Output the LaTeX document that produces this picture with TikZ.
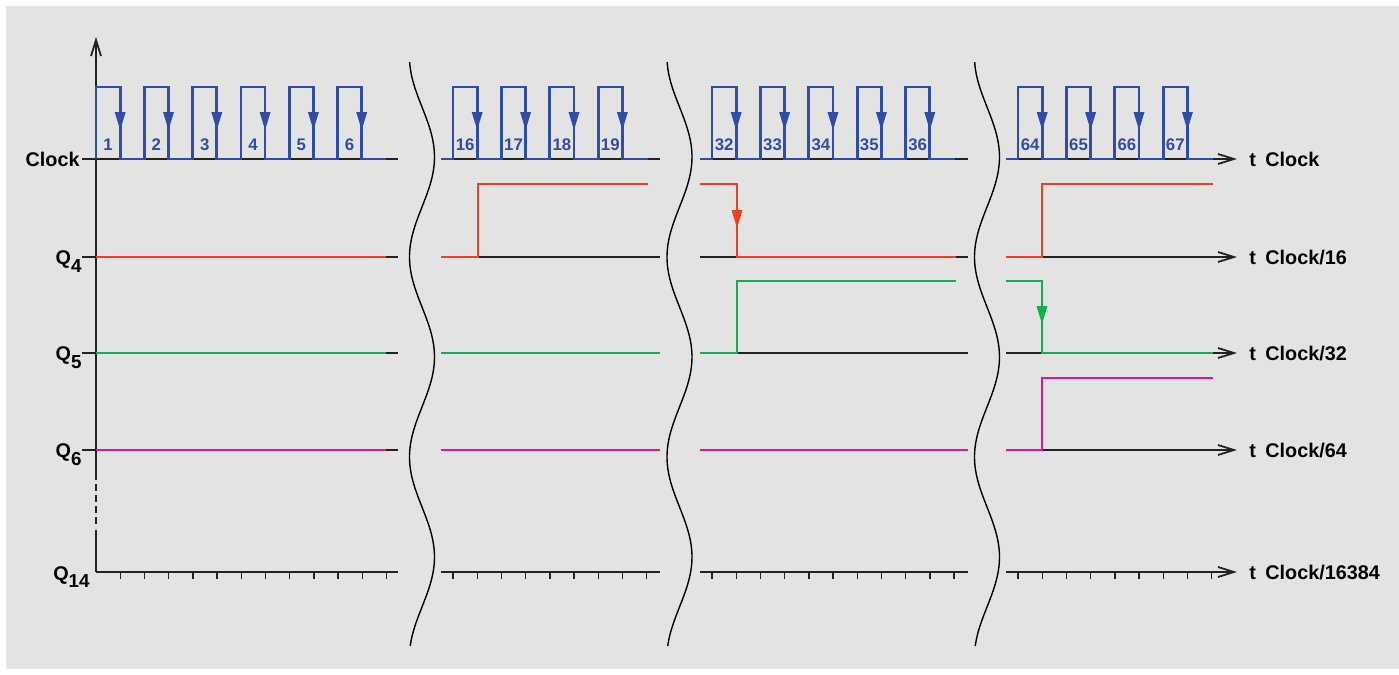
\documentclass[tikz,border=0pt]{standalone}
\usepackage{fontspec}
\setmainfont{Liberation Sans}
\usetikzlibrary{arrows.meta}
\definecolor{bg}{HTML}{E3E3E3}
\definecolor{clk}{HTML}{2E4DA3}
\definecolor{qred}{HTML}{EE3F22}
\definecolor{qgreen}{HTML}{12B04C}
\definecolor{qmag}{HTML}{E5168A}
\definecolor{axc}{HTML}{222222}
\newcommand\qsub[1]{\raisebox{-3.8pt}{\fontsize{9.4}{10}\selectfont #1}}
\begin{document}
\begin{tikzpicture}[x=0.5pt,y=-0.5pt,
  base/.style={draw=axc, line width=0.9pt},
  sig/.style={line width=1.35pt, line join=miter},
  wave/.style={draw=black, line width=0.7pt},
  tickmark/.style={draw=axc, line width=0.7pt},
  axisarrow/.style={-{Straight Barb[length=8pt,width=5pt]}},
  lbl/.style={font=\bfseries\fontsize{9.9}{11}\selectfont, inner sep=0pt, text=black},
  num/.style={font=\bfseries\fontsize{8.4}{10}\selectfont, inner sep=0pt, text=clk},
]
\fill[white] (0,0) rectangle (1399,675);
\fill[bg] (6,6) rectangle (1399,669);
\useasboundingbox (0,0) rectangle (1399,675);

% ---------- black baselines ----------
\foreach \y in {159,257,353,450} \draw[base] (82,\y) -- (398,\y);
\draw[base] (96,572) -- (398,572);
\foreach \y in {159,257,353,450,572} {
  \draw[base] (441,\y) -- (660,\y);
  \draw[base] (700,\y) -- (968,\y);
  \draw[base,axisarrow] (1006,\y) -- (1237,\y);
}
% y axis
\draw[base,axisarrow] (96,473) -- (96,37);
\draw[base,dash pattern=on 3.5pt off 2pt] (96,473) -- (96,528);
\draw[base] (96,530) -- (96,572);

% ticks
\foreach \k in {1,...,12} \draw[tickmark] ({96+24.2*\k},572) -- ({96+24.2*\k},579);
\foreach \k in {0,...,8}  \draw[tickmark] ({453+24.2*\k},572) -- ({453+24.2*\k},579);
\foreach \k in {0,...,10} \draw[tickmark] ({712+24.2*\k},572) -- ({712+24.2*\k},579);
\foreach \k in {0,...,8}  \draw[tickmark] ({1018+24.2*\k},572) -- ({1018+24.2*\k},579);

% wavy break lines
\foreach \cx in {422,679.5,987}
  \draw[wave] plot[variable=\t, domain=62:646, samples=90, smooth]
    ({\cx-12.5*cos(1.8*(\t-57))},\t);

% ---------- clock ----------
\draw[sig,clk] (96,159) \foreach \r in {96,144.3,192.6,240.9,289.2,337.5}
  { -- (\r,159) -- (\r,87) -- ({\r+24.2},87) -- ({\r+24.2},159)} -- (386,159);
\draw[sig,clk] (441,159) \foreach \r in {453,501.4,549.8,598.2}
  { -- (\r,159) -- (\r,87) -- ({\r+24.2},87) -- ({\r+24.2},159)} -- (648,159);
\draw[sig,clk] (700,159) \foreach \r in {712,760.4,808.8,857.2,905.6}
  { -- (\r,159) -- (\r,87) -- ({\r+24.2},87) -- ({\r+24.2},159)} -- (955,159);
\draw[sig,clk] (1006,159) \foreach \r in {1018,1066.4,1114.8,1163.2}
  { -- (\r,159) -- (\r,87) -- ({\r+24.2},87) -- ({\r+24.2},159)} -- (1213,159);

\foreach \r/\n in {96/1,144.3/2,192.6/3,240.9/4,289.2/5,337.5/6,
                   453/16,501.4/17,549.8/18,598.2/19,
                   712/32,760.4/33,808.8/34,857.2/35,905.6/36,
                   1018/64,1066.4/65,1114.8/66,1163.2/67} {
  \fill[clk] ({\r+24.2-5.5},112) -- ({\r+24.2+5.5},112) -- ({\r+24.2},130) -- cycle;
  \node[num] (n\n) at ({\r+12.1},145) {\n};
}

% ---------- Q4 (red) ----------
\draw[sig,qred] (96,257) -- (386,257);
\draw[sig,qred] (441,257) -- (478,257) -- (478,184) -- (648,184);
\draw[sig,qred] (700,184) -- (737,184) -- (737,257) -- (956,257);
\fill[qred] (731.5,210) -- (742.5,210) -- (737,228) -- cycle;
\draw[sig,qred] (1006,257) -- (1042,257) -- (1042,184) -- (1213,184);

% ---------- Q5 (green) ----------
\draw[sig,qgreen] (96,353) -- (386,353);
\draw[sig,qgreen] (441,353) -- (660,353);
\draw[sig,qgreen] (700,353) -- (737,353) -- (737,281) -- (956,281);
\draw[sig,qgreen] (1006,281) -- (1042,281) -- (1042,353) -- (1213,353);
\fill[qgreen] (1036.5,306) -- (1047.5,306) -- (1042,324) -- cycle;

% ---------- Q6 (magenta) ----------
\draw[sig,qmag] (96,450) -- (386,450);
\draw[sig,qmag] (441,450) -- (660,450);
\draw[sig,qmag] (700,450) -- (968,450);
\draw[sig,qmag] (1006,450) -- (1042,450) -- (1042,378) -- (1213,378);

% ---------- left labels ----------
\node[lbl, anchor=base east] (lclk) at (80,166) {Clock};
\node[lbl, anchor=base east] (lq4) at (82,264.5) {Q\qsub{4}};
\node[lbl, anchor=base east] (lq5) at (82,360.5) {Q\qsub{5}};
\node[lbl, anchor=base east] (lq6) at (82,457.5) {Q\qsub{6}};
\node[lbl, anchor=base east] (lq14) at (90,580) {Q\qsub{14}};

% ---------- right labels ----------
\foreach \y/\txt/\nm in {159/Clock/a,257/Clock\slash 16/b,353/Clock\slash 32/c,450/Clock\slash 64/d,572/Clock\slash 16384/e} {
  \node[lbl, anchor=base west] (t\nm) at (1249,\y+7) {t};
  \node[lbl, anchor=base west] (r\nm) at (1265,\y+7) {\txt};
}
\end{tikzpicture}
\end{document}
